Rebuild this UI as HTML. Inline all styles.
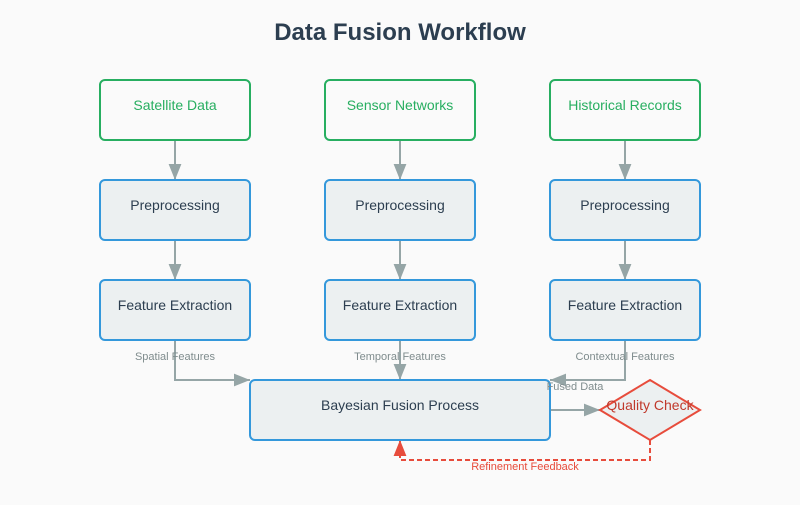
<!DOCTYPE html><html><head><style>body{margin:0;background:#fafafa}</style></head><body>
<svg width="800" height="500" viewBox="0 0 800 500" xmlns="http://www.w3.org/2000/svg" font-family="Liberation Sans, Arial, sans-serif">
<defs>
<marker id="a" viewBox="0 0 10 8" refX="10" refY="4" markerWidth="8" markerHeight="6.4" orient="auto"><path d="M0,0L10,4L0,8z" fill="#95a5a6"/></marker>
<marker id="r" viewBox="0 0 10 8" refX="10" refY="4" markerWidth="8" markerHeight="6.4" orient="auto"><path d="M0,0L10,4L0,8z" fill="#e74c3c"/></marker>
</defs>
<rect width="800" height="500" fill="#fafafa"/>
<text x="400" y="40" text-anchor="middle" font-size="24" font-weight="bold" fill="#2c3e50">Data Fusion Workflow</text>
<g stroke="#95a5a6" stroke-width="2" fill="none" marker-end="url(#a)">
<line x1="175" y1="140" x2="175" y2="180"/><line x1="400" y1="140" x2="400" y2="180"/><line x1="625" y1="140" x2="625" y2="180"/>
<line x1="175" y1="240" x2="175" y2="280"/><line x1="400" y1="240" x2="400" y2="280"/><line x1="625" y1="240" x2="625" y2="280"/>
<path d="M175,340V380H250"/><path d="M400,340V380"/><path d="M625,340V380H550"/><path d="M550,410H600"/>
</g>
<path d="M650,440V460H400V440" stroke="#e74c3c" stroke-width="2" stroke-dasharray="5,3" fill="none" marker-end="url(#r)"/>
<g fill="#fafafa" stroke="#27ae60" stroke-width="2">
<rect x="100" y="80" width="150" height="60" rx="5"/><rect x="325" y="80" width="150" height="60" rx="5"/><rect x="550" y="80" width="150" height="60" rx="5"/>
</g>
<g fill="#ecf0f1" stroke="#3498db" stroke-width="2">
<rect x="100" y="180" width="150" height="60" rx="5"/><rect x="325" y="180" width="150" height="60" rx="5"/><rect x="550" y="180" width="150" height="60" rx="5"/>
<rect x="100" y="280" width="150" height="60" rx="5"/><rect x="325" y="280" width="150" height="60" rx="5"/><rect x="550" y="280" width="150" height="60" rx="5"/>
<rect x="250" y="380" width="300" height="60" rx="5"/>
</g>
<polygon points="650,380 700,410 650,440 600,410" fill="#ecf0f1" stroke="#e74c3c" stroke-width="2"/>
<g font-size="14" text-anchor="middle">
<g fill="#27ae60"><text x="175" y="110">Satellite Data</text><text x="400" y="110">Sensor Networks</text><text x="625" y="110">Historical Records</text></g>
<g fill="#2c3e50"><text x="175" y="210">Preprocessing</text><text x="400" y="210">Preprocessing</text><text x="625" y="210">Preprocessing</text>
<text x="175" y="310">Feature Extraction</text><text x="400" y="310">Feature Extraction</text><text x="625" y="310">Feature Extraction</text>
<text x="400" y="410">Bayesian Fusion Process</text></g>
<text x="650" y="410" fill="#c0392b">Quality Check</text>
</g>
<g font-size="11" text-anchor="middle" fill="#7f8c8d">
<text x="175" y="360">Spatial Features</text><text x="400" y="360">Temporal Features</text><text x="625" y="360">Contextual Features</text><text x="575" y="390">Fused Data</text>
</g>
<text x="525" y="470" font-size="11" text-anchor="middle" fill="#e74c3c">Refinement Feedback</text>
</svg></body></html>
